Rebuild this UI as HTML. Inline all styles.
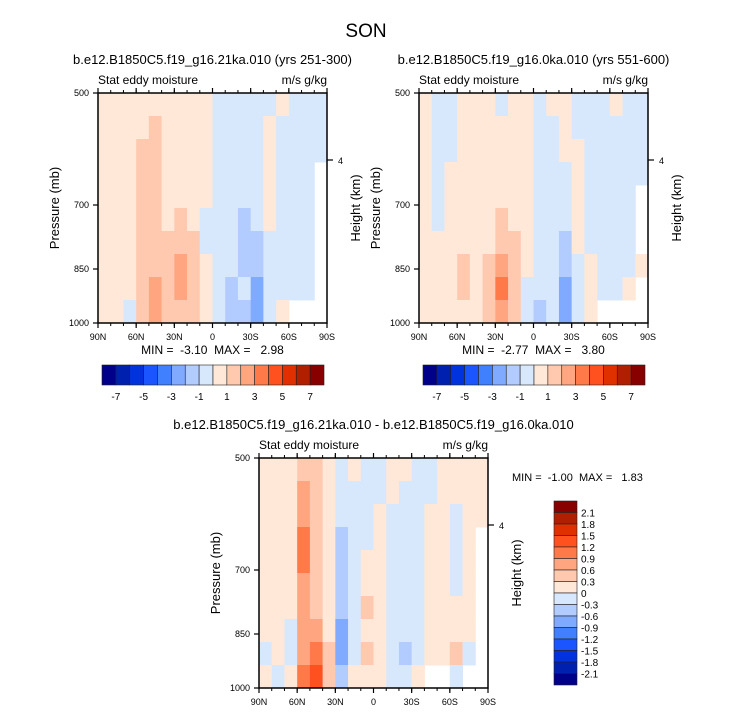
<!DOCTYPE html>
<html><head><meta charset="utf-8">
<style>
body{margin:0;background:#fff;}
svg{display:block;font-family:"Liberation Sans",sans-serif;}
text{white-space:pre;}
</style></head>
<body>
<svg id="chart" width="733" height="712" viewBox="0 0 733 712" xmlns="http://www.w3.org/2000/svg">
<text x="366" y="37" font-size="19" text-anchor="middle">SON</text>
</svg>
<script>
// ---- data ----
const lonLabels = ["90N","60N","30N","0","30S","60S","90S"];
const presLabels = [500,700,850,1000];
const levels1 = [-7,-6,-5,-4,-3,-2,-1,0,1,2,3,4,5,6,7];
const levels1Labels = ["-7","-5","-3","-1","1","3","5","7"];
const levels3 = [-2.1,-1.8,-1.5,-1.2,-0.9,-0.6,-0.3,0,0.3,0.6,0.9,1.2,1.5,1.8,2.1];
const levels3Labels = ["-2.1","-1.8","-1.5","-1.2","-0.9","-0.6","-0.3","0","0.3","0.6","0.9","1.2","1.5","1.8","2.1"];
const N = null;
const panel1Values = [
[.5,.5,.5,.5,.5,.5,.5,.5,.5,-.5,-.5,-.5,-.5,-.5,.5,-.5,-.5,-.5],
[.5,.5,.5,.5,1.5,.5,.5,.5,.5,-.5,-.5,-.5,-.5,.5,-.5,-.5,-.5,-.5],
[.5,.5,.5,1.5,1.5,.5,.5,.5,.5,-.5,-.5,-.5,-.5,.5,-.5,-.5,-.5,-.5],
[.5,.5,.5,1.5,1.5,.5,.5,.5,.5,-.5,-.5,-.5,-.5,.5,-.5,-.5,-.5,N],
[.5,.5,.5,1.5,1.5,.5,.5,.5,.5,-.5,-.5,-.5,-.5,.5,-.5,-.5,-.5,N],
[.5,.5,.5,1.5,1.5,.5,1.5,.5,-.5,-.5,-.5,-1.5,-.5,.5,-.5,-.5,-.5,N],
[.5,.5,.5,1.5,1.5,1.5,1.5,1.5,-.5,-.5,-.5,-1.5,-1.5,-.5,-.5,-.5,-.5,N],
[.5,.5,.5,1.5,1.5,1.5,2.5,1.5,.5,-.5,-.5,-1.5,-1.5,-.5,-.5,-.5,-.5,N],
[.5,.5,.5,1.5,2.5,1.5,2.5,1.5,.5,-.5,-1.5,-.5,-2.5,-.5,-.5,-.5,-.5,N],
[.5,.5,-.5,1.5,2.5,1.5,1.5,1.5,.5,-.5,-1.5,-1.5,-2.5,-.5,.5,N,N,N]];
const panel2Values = [
[.5,-.5,-.5,.5,.5,.5,-.5,.5,.5,-.5,.5,.5,-.5,-.5,-.5,.5,-.5,-.5],
[.5,-.5,-.5,.5,.5,.5,.5,.5,.5,-.5,-.5,.5,-.5,-.5,-.5,-.5,-.5,-.5],
[.5,-.5,-.5,.5,.5,.5,.5,.5,.5,-.5,-.5,.5,.5,-.5,-.5,-.5,-.5,-.5],
[.5,-.5,.5,.5,.5,.5,.5,.5,.5,-.5,-.5,-.5,.5,-.5,-.5,-.5,-.5,-.5],
[.5,-.5,.5,.5,.5,.5,.5,.5,.5,-.5,-.5,-.5,.5,-.5,-.5,-.5,-.5,N],
[.5,-.5,.5,.5,.5,.5,1.5,.5,.5,-.5,-.5,-.5,.5,-.5,-.5,-.5,-.5,N],
[.5,.5,.5,.5,.5,.5,1.5,1.5,.5,-.5,-.5,-1.5,.5,-.5,-.5,-.5,-.5,N],
[.5,.5,.5,1.5,.5,1.5,2.5,1.5,.5,-.5,-.5,-1.5,-.5,.5,-.5,-.5,-.5,.5],
[.5,.5,.5,1.5,.5,1.5,3.5,1.5,-.5,-.5,-.5,-2.5,-.5,.5,-.5,-.5,.5,N],
[.5,.5,.5,.5,.5,1.5,2.5,1.5,-.5,-1.5,-.5,-2.5,-.5,.5,N,N,N,N]];
const panel3Values = [
[.15,.15,.15,.45,.45,.15,-.15,.15,-.15,-.15,.15,.15,-.15,-.15,.15,.15,.15,.15],
[.15,.15,.15,.75,.45,.15,-.15,-.15,-.15,-.15,.15,-.15,-.15,-.15,.15,.15,.15,.15],
[.15,.15,.15,.75,.45,.15,-.15,-.15,-.15,.15,-.15,-.15,-.15,.15,.15,-.15,.15,.15],
[.15,.15,.15,1.05,.45,.15,-.45,-.15,-.15,.15,-.15,-.15,-.15,.15,.15,-.15,.15,N],
[.15,.15,.15,1.05,.45,.15,-.45,-.15,.15,.15,-.15,-.15,-.15,.15,.15,-.15,.15,N],
[.15,.15,.15,.75,.45,.15,-.45,-.15,.15,.15,-.15,-.15,-.15,.15,.15,-.15,.15,N],
[.15,.15,.15,.75,.45,.15,-.45,-.15,.45,.15,-.15,-.15,-.15,.15,.15,.15,.15,N],
[.15,.15,-.15,.75,.75,.15,-.75,-.15,.15,.15,-.15,-.15,-.15,.15,.15,.15,.15,N],
[-.15,.15,-.15,.75,1.05,.45,-.75,-.15,.45,.15,-.15,-.45,-.15,.15,.15,.45,-.15,N],
[.15,-.15,.15,1.05,1.35,.45,-.45,.15,.15,.15,-.15,-.15,.15,N,N,-.15,N,N]];
// ---- rendering ----
const palette=["#00008a","#0020b0","#0033dd","#1a55ff","#4080ff","#80aaff","#b3ccff","#d8e8fc","#ffe8d8","#ffc9b0","#ffa680","#ff7a48","#ff5020","#e03000","#b02000","#880000"];
const svg=document.getElementById('chart');
const NS="http://www.w3.org/2000/svg";
function mk(tag,attrs,parent){const e=document.createElementNS(NS,tag);for(const k in attrs)e.setAttribute(k,attrs[k]);(parent||svg).appendChild(e);return e;}
function binOf(v,lv){let i=0;while(i<lv.length&&v>=lv[i])i++;return i;}
function pScale(p,y0,h){return y0+(p-500)/500*h;}
function panel(name,x0,y0,vals,lv,title,minmax,leftMinMax){
  const w=229,h=230;
  const g=mk('g',{});
  
  
  const rows=vals.length,cols=vals[0].length;
  const lonX=lat=>x0+(90-lat)/180*w;
  for(let r=0;r<rows;r++)for(let c=0;c<cols;c++){
    const v=vals[r][c]; if(v===null)continue;
    const xa=lonX(90-c*180/cols), xb=lonX(90-(c+1)*180/cols);
    const ya=pScale(500+r*500/rows,y0,h), yb=pScale(500+(r+1)*500/rows,y0,h);
    const cell=mk('rect',{x:xa,y:ya,width:xb-xa+0.5,height:yb-ya+0.5,fill:palette[binOf(v,lv)]},g);
    
    
  }
  mk('rect',{x:x0,y:y0,width:w,height:h,fill:'none',stroke:'#000','stroke-width':1.5},g);
  lonLabels.forEach((l,i)=>{const x=x0+i*w/6;
    mk('line',{x1:x,y1:y0+h,x2:x,y2:y0+h+5,stroke:'#000','stroke-width':1.2},g);
    mk('line',{x1:x,y1:y0,x2:x,y2:y0-5,stroke:'#000','stroke-width':1.2},g);
    const t=mk('text',{x:x,y:y0+h+17,'font-size':9,'text-anchor':'middle'},g);t.textContent=l;
    
  });
  for(let i=0;i<=18;i++){const x=x0+i*w/18;mk('line',{x1:x,y1:y0+h,x2:x,y2:y0+h+3,stroke:'#000'},g);mk('line',{x1:x,y1:y0,x2:x,y2:y0-3,stroke:'#000'},g);}
  presLabels.forEach(p=>{
    const yy=p==500?y0:p==1000?y0+h:(p==700?y0+112:y0+176);
    mk('line',{x1:x0-5,y1:yy,x2:x0,y2:yy,stroke:'#000','stroke-width':1.2},g);
    const t=mk('text',{x:x0-9,y:yy+3,'font-size':9,'text-anchor':'end'},g);t.textContent=p;
    
  });
  mk('line',{x1:x0+w,y1:y0+67,x2:x0+w+6,y2:y0+67,stroke:'#000','stroke-width':1.2},g);
  let t=mk('text',{x:x0+w+11,y:y0+71,'font-size':9},g);t.textContent='4';
  t=mk('text',{x:x0-39,y:y0+h/2,'font-size':13,'text-anchor':'middle',transform:`rotate(-90 ${x0-39} ${y0+h/2})`},g);t.textContent='Pressure (mb)';
  
  t=mk('text',{x:x0+w+33,y:y0+h/2,'font-size':13,'text-anchor':'middle',transform:`rotate(-90 ${x0+w+33} ${y0+h/2})`},g);t.textContent='Height (km)';
  
  t=mk('text',{x:x0,y:y0-9,'font-size':12},g);t.textContent='Stat eddy moisture';
  t=mk('text',{x:x0+w,y:y0-9,'font-size':12,'text-anchor':'end'},g);t.textContent='m/s g/kg';
  t=mk('text',{x:x0+w/2,y:y0-29,'font-size':13,'text-anchor':'middle'},g);t.textContent=title;
  
  if(leftMinMax){t=mk('text',{x:x0+w/2,y:y0+h+31,'font-size':12,'text-anchor':'middle'},g);t.textContent=minmax;
    }
  return g;
}
function hbar(x0,y0){
  const g=mk('g',{});
  
  
  const w=222,bw=w/16;
  palette.forEach((c,i)=>mk('rect',{x:x0+i*bw,y:y0,width:bw,height:20,fill:c,stroke:'#222','stroke-width':0.6},g));
  levels1.forEach((l,i)=>{if(levels1Labels.includes(String(l))){const t=mk('text',{x:x0+(i+1)*bw,y:y0+35,'font-size':10,'text-anchor':'middle'},g);t.textContent=String(l);}});
}
function vbar(x0,y0){
  const g=mk('g',{});
  
  
  const h=184,bh=h/16;
  palette.slice().reverse().forEach((c,i)=>mk('rect',{x:x0,y:y0+i*bh,width:23,height:bh,fill:c,stroke:'#222','stroke-width':0.6},g));
  levels3.slice().reverse().forEach((l,i)=>{const t=mk('text',{x:x0+27,y:y0+(i+1)*bh+4,'font-size':10},g);t.textContent=levels3Labels[levels3Labels.length-1-i];});
}
panel('panel-21ka',98,93,panel1Values,levels1,'b.e12.B1850C5.f19_g16.21ka.010 (yrs 251-300)','MIN =  -3.10  MAX =   2.98',true);
panel('panel-0ka',419,93,panel2Values,levels1,'b.e12.B1850C5.f19_g16.0ka.010 (yrs 551-600)','MIN =  -2.77  MAX =   3.80',true);
hbar(102,365);hbar(423,365);
panel('panel-difference',259,458,panel3Values,levels3,'b.e12.B1850C5.f19_g16.21ka.010 - b.e12.B1850C5.f19_g16.0ka.010','',false);
const mm=mk('text',{x:512,y:481,'font-size':11});mm.textContent='MIN =  -1.00  MAX =   1.83';


vbar(554,501);
</script>
</body></html>
